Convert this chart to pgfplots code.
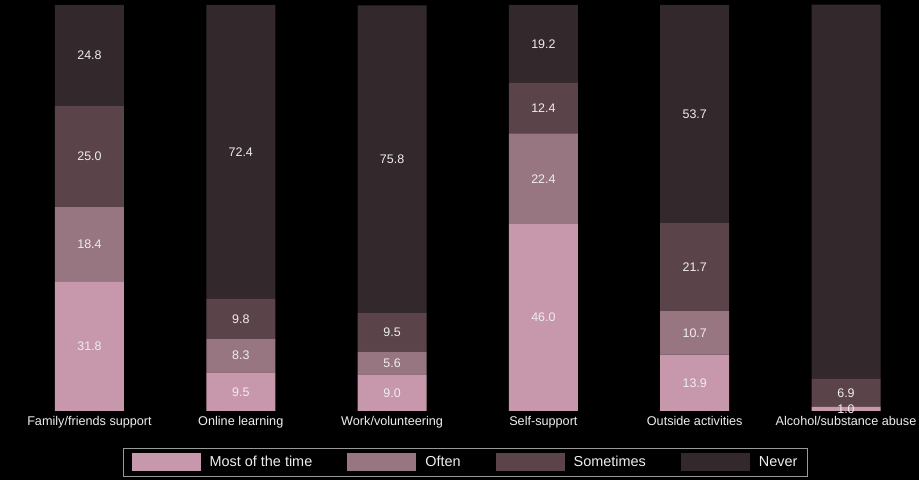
\documentclass[border=0pt]{standalone}
\usepackage{pgfplots}
\pgfplotsset{compat=1.18}
\usepackage{fontspec}
\setmainfont{Liberation Sans}

\definecolor{cMost}{HTML}{C797AC}
\definecolor{cOften}{HTML}{987681}
\definecolor{cSome}{HTML}{5B4449}
\definecolor{cNever}{HTML}{33282C}
\definecolor{txt}{HTML}{EEEEEE}

\begin{document}
\begin{tikzpicture}
\fill[black] (0,0) rectangle (919bp,480bp);
\begin{axis}[
  at={(0bp,69bp)}, anchor=south west,
  scale only axis,
  width=919bp, height=406bp,
  xmin=-0.5915, xmax=5.4825,
  ymin=0, ymax=100,
  enlargelimits=false,
  ybar stacked,
  bar width=69bp,
  axis line style={draw=none},
  major tick length=0pt,
  ytick=\empty,
  xtick={0,...,5},
  xticklabels={Family/friends support,Online learning,Work/volunteering,Self-support,Outside activities,Alcohol/substance abuse},
  xticklabel style={text=txt, font=\fontsize{12.7}{14}\selectfont, inner sep=2bp, yshift=-3bp},
  visualization depends on=rawy \as \rawy,
  nodes near coords={\ifdim\rawy pt>0pt\pgfmathprintnumber[fixed,fixed zerofill,precision=1,assume math mode=true]{\rawy}\fi},
  every node near coord/.append style={anchor=center, text=txt, font=\fontsize{12.5}{14}\selectfont},
  legend columns=4,
  legend style={at={(rel axis cs:0.5065,-0.1268)}, anchor=center,
    fill=black, draw=gray!80, line width=1pt,
    inner xsep=8bp, inner ysep=5bp,
    font=\fontsize{14.5}{16}\selectfont,
    nodes={text=txt},
    /tikz/every odd column/.append style={column sep=7bp},
    /tikz/every even column/.append style={column sep=33bp}},
  legend image code/.code={\fill[#1] (0bp,-9bp) rectangle (69bp,9bp);},
]
\addplot[fill=cMost, draw=none] coordinates {(0,31.8) (1,9.5) (2,9.0) (3,46.0) (4,13.9) (5,1.0)};
\addplot[fill=cOften, draw=none] coordinates {(0,18.4) (1,8.3) (2,5.6) (3,22.4) (4,10.7) (5,0)};
\addplot[fill=cSome, draw=none] coordinates {(0,25.0) (1,9.8) (2,9.5) (3,12.4) (4,21.7) (5,6.9)};
\addplot[fill=cNever, draw=none] coordinates {(0,24.8) (1,72.4) (2,75.8) (3,19.2) (4,53.7) (5,92.2)};
\legend{Most of the time, Often, Sometimes, Never}
\end{axis}
\pgfresetboundingbox
\path (0,0) rectangle (919bp,480bp);
\end{tikzpicture}
\end{document}
